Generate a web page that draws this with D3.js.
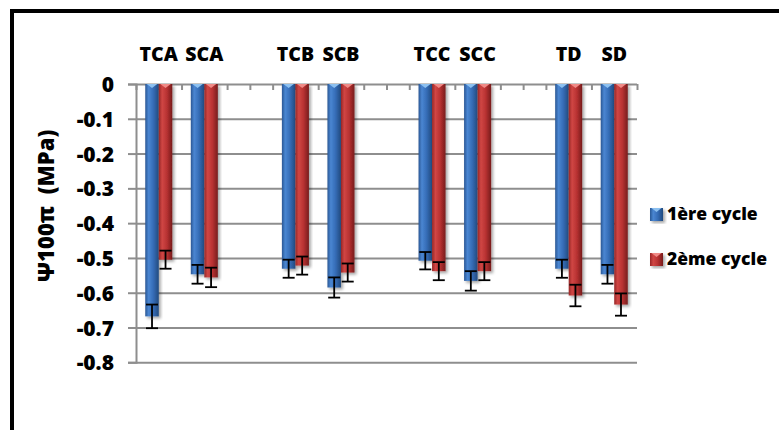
<!DOCTYPE html>
<html>
<head>
<meta charset="utf-8">
<script src="https://cdn.jsdelivr.net/npm/d3@7"></script>
<style>
  body { margin: 0; background: #fff; }
  svg { display: block; }
  text { font-family: "Open Sans", sans-serif; font-weight: 800; fill: #000; }
</style>
</head>
<body>
<svg id="chart" width="779" height="430"></svg>
<script>
// chart values
const categories = ["TCA", "SCA", "", "TCB", "SCB", "", "TCC", "SCC", "", "TD", "SD"];
const seriesNames = ["1ère cycle", "2ème cycle"];
const cycle1 = [-0.668, -0.547, null, -0.531, -0.585, null, -0.508, -0.566, null, -0.531, -0.547];
const cycle2 = [-0.505, -0.556, null, -0.522, -0.542, null, -0.538, -0.538, null, -0.608, -0.634];
const err1 = [0.034, 0.027, null, 0.026, 0.029, null, 0.025, 0.028, null, 0.026, 0.027];
const err2 = [0.026, 0.028, null, 0.026, 0.026, null, 0.026, 0.026, null, 0.031, 0.032];
const yTicks = [0, -0.1, -0.2, -0.3, -0.4, -0.5, -0.6, -0.7, -0.8];

const margins = { top: 84, left: 136, right: 142, bottom: 67.7 };
const width = 779, height = 430;

const svg = d3.select('#chart');

const x = d3.scaleBand()
  .domain(d3.range(categories.length))
  .range([margins.left, width - margins.right])
  .paddingInner(0).paddingOuter(0);
const x1 = d3.scaleBand()
  .domain([0, 1])
  .range([0, x.bandwidth()])
  .paddingInner(0).paddingOuter(0.685);
// minor tick positions (every half category)
const xt = d3.scaleLinear()
  .domain([0, categories.length * 2])
  .range(x.range());
const y = d3.scaleLinear()
  .domain([-0.8, 0])
  .range([height - margins.bottom, margins.top]);

const colors = [
  { edge: '#2a5794', light: '#4a86d2', mid: '#356cb6', dark: '#224a7e', tip: '#8cc0f0' },
  { edge: '#962626', light: '#d04644', mid: '#b83232', dark: '#771c1c', tip: '#f08a86' }
];
const gridColor = '#8e8e8e';

const defs = svg.append('defs');
colors.forEach((c, i) => {
  const g = defs.append('linearGradient').attr('id', 'grad' + i)
    .attr('x1', '0%').attr('x2', '100%').attr('y1', '0%').attr('y2', '0%');
  g.append('stop').attr('offset', '0%').attr('stop-color', c.edge);
  g.append('stop').attr('offset', '25%').attr('stop-color', c.light);
  g.append('stop').attr('offset', '60%').attr('stop-color', c.mid);
  g.append('stop').attr('offset', '100%').attr('stop-color', c.dark);
});
const shadow = defs.append('filter').attr('id', 'shadow')
  .attr('x', '-30%').attr('y', '-10%').attr('width', '160%').attr('height', '130%');
shadow.append('feDropShadow')
  .attr('dx', 2).attr('dy', 2).attr('stdDeviation', 1.5)
  .attr('flood-color', '#000').attr('flood-opacity', 0.35);

// outer frame
svg.append('rect')
  .attr('x', 12).attr('y', 11)
  .attr('width', 900).attr('height', 600)
  .attr('fill', 'none')
  .attr('stroke', '#000')
  .attr('stroke-width', 4);

// y axis with gridlines
const yAxis = d3.axisLeft(y)
  .tickValues(yTicks)
  .tickSize(8)
  .tickPadding(14)
  .tickFormat(d => d === 0 ? '0' : d.toFixed(1));
const yg = svg.append('g')
  .attr('class', 'y axis')
  .attr('transform', 'translate(' + margins.left + ',0)')
  .call(yAxis);
yg.attr('font-family', null);
yg.select('.domain').attr('stroke', gridColor).attr('stroke-width', 2);
yg.selectAll('.tick line').attr('stroke', gridColor).attr('stroke-width', 2);
yg.selectAll('.tick text').style('font-size', '21px').attr('dy', '0.36em');
yg.selectAll('.tick').append('line')
  .attr('x1', 0).attr('x2', x.range()[1] - margins.left)
  .attr('stroke', gridColor).attr('stroke-width', 2);

// tick marks along zero line
const xtAxis = d3.axisBottom(xt)
  .tickValues(d3.range(categories.length * 2 + 1))
  .tickSize(6)
  .tickFormat('');
const xtg = svg.append('g')
  .attr('transform', 'translate(0,' + y(0) + ')')
  .call(xtAxis);
xtg.select('.domain').remove();
xtg.selectAll('.tick line').attr('stroke', gridColor).attr('stroke-width', 2);

// category labels on top
const xAxis = d3.axisTop(x)
  .tickSize(0)
  .tickPadding(23)
  .tickFormat(i => categories[i]);
const xg = svg.append('g')
  .attr('transform', 'translate(0,' + y(0) + ')')
  .call(xAxis);
xg.attr('font-family', null);
xg.select('.domain').remove();
xg.selectAll('.tick text').style('font-size', '19.5px');

// bars
const barData = [];
categories.forEach((c, i) => {
  [cycle1, cycle2].forEach((s, k) => {
    if (s[i] === null) return;
    barData.push({ i: i, k: k, v: s[i], e: (k === 0 ? err1 : err2)[i] });
  });
});

const bars = svg.append('g');
bars.selectAll('rect')
  .data(barData)
  .enter().append('rect')
  .attr('x', d => x(d.i) + x1(d.k))
  .attr('width', x1.bandwidth())
  .attr('y', y(0))
  .attr('height', d => y(d.v) - y(0))
  .attr('fill', d => 'url(#grad' + d.k + ')')
  .attr('filter', 'url(#shadow)');

// bevel tip at the top of each bar
bars.selectAll('path.tip')
  .data(barData)
  .enter().append('path')
  .attr('class', 'tip')
  .attr('d', d => {
    const x0 = x(d.i) + x1(d.k), w = x1.bandwidth(), y0 = y(0);
    return 'M' + (x0 + 1.5) + ',' + y0 + 'L' + (x0 + w - 1.5) + ',' + y0 +
      'L' + (x0 + w / 2) + ',' + (y0 + 4) + 'Z';
  })
  .attr('fill', d => colors[d.k].tip);

// error bars
const errs = svg.append('g').attr('stroke', '#000').attr('stroke-width', 1.8);
barData.forEach(d => {
  const cx = x(d.i) + x1(d.k) + x1.bandwidth() / 2;
  const y1 = y(d.v + d.e), y2 = y(d.v - d.e);
  errs.append('line').attr('x1', cx).attr('x2', cx).attr('y1', y1).attr('y2', y2);
  errs.append('line').attr('x1', cx - 6).attr('x2', cx + 6).attr('y1', y1).attr('y2', y1);
  errs.append('line').attr('x1', cx - 6).attr('x2', cx + 6).attr('y1', y2).attr('y2', y2);
});

// y title
svg.append('text')
  .attr('transform', 'translate(54,206) rotate(-90)')
  .attr('text-anchor', 'middle')
  .style('font-size', '22px')
  .style('white-space', 'pre')
  .text('Ψ100π  (MPa)');

// legend
const legend = svg.append('g').attr('transform', 'translate(650,208)');
seriesNames.forEach((name, k) => {
  const row = legend.append('g').attr('transform', 'translate(0,' + k * 45 + ')');
  row.append('rect')
    .attr('width', 13).attr('height', 13)
    .attr('fill', 'url(#grad' + k + ')')
    .attr('filter', 'url(#shadow)');
  row.append('path')
    .attr('d', 'M1.5,0L11.5,0L6.5,4Z')
    .attr('fill', colors[k].tip);
  row.append('text')
    .attr('x', 17).attr('y', 12)
    .style('font-size', '17.5px')
    .text(name);
});
</script>
</body>
</html>
